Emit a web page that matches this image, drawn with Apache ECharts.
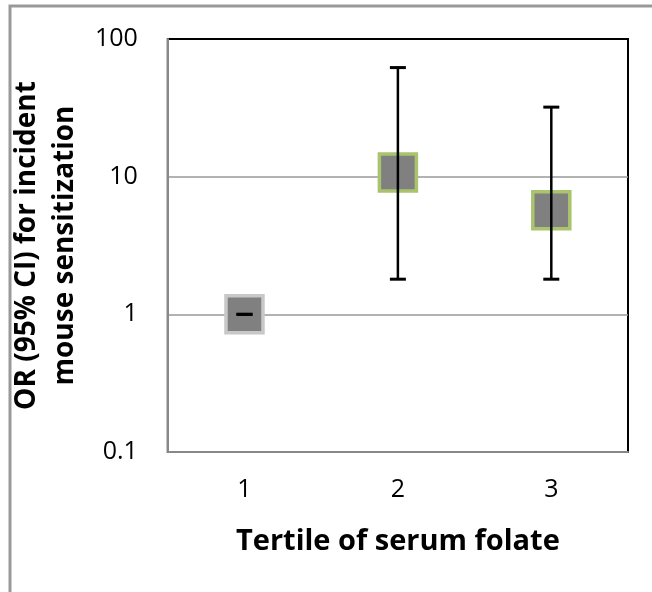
<!DOCTYPE html>
<html>
<head>
<meta charset="utf-8">
<script src="https://cdn.jsdelivr.net/npm/echarts@6/dist/echarts.min.js"></script>
<style>html,body{margin:0;padding:0;background:#fff}#c{width:652px;height:592px}</style>
</head>
<body>
<div id="c"></div>
<script>
var categories = ['1', '2', '3'];
var oddsRatio = [1, 10.7, 5.7];
var ciLower = [1, 1.8, 1.8];
var ciUpper = [1, 62, 32];
var yTicks = [0.1, 1, 10, 100];

var chart = echarts.init(document.getElementById('c'));
var font = '"Open Sans", "Noto Sans", sans-serif';

var pointData = oddsRatio.map(function (v, i) {
  return {
    value: [categories[i], v],
    itemStyle: { borderColor: i === 0 ? '#c8c8c8' : '#a9c46c' }
  };
});
var errData = categories.map(function (c, i) { return [c, ciLower[i], ciUpper[i]]; });

chart.setOption({
  animation: false,
  backgroundColor: '#fff',
  graphic: [{
    type: 'rect', silent: true, z: 100,
    shape: { x: 10, y: 6, width: 800, height: 800 },
    style: { fill: 'none', stroke: '#999', lineWidth: 3 }
  }],
  grid: {
    left: 167, top: 39, right: 24, bottom: 140,
    show: true, borderColor: '#000', borderWidth: 2, backgroundColor: 'transparent'
  },
  xAxis: {
    type: 'category',
    data: categories,
    name: 'Tertile of serum folate',
    nameLocation: 'middle',
    nameGap: 75,
    nameTextStyle: { fontFamily: font, fontWeight: 'bold', fontSize: 29, color: '#000' },
    axisLine: { lineStyle: { color: '#888', width: 2 } },
    axisTick: { show: false },
    axisLabel: { fontFamily: font, fontSize: 25, color: '#000', margin: 25 },
    splitLine: { show: false }
  },
  yAxis: {
    type: 'log',
    logBase: 10,
    min: yTicks[0],
    max: yTicks[yTicks.length - 1],
    name: 'OR (95% CI) for incident\nmouse sensitization',
    nameLocation: 'middle',
    nameRotate: 90,
    nameGap: 70,
    nameTextStyle: { fontFamily: font, fontWeight: 'bold', fontSize: 28, color: '#000', lineHeight: 38 },
    axisLine: { show: true, lineStyle: { color: '#888', width: 2 } },
    axisTick: { show: false },
    axisLabel: {
      fontFamily: font, fontSize: 25, color: '#000', margin: 30,
      formatter: function (v) { return String(+v.toPrecision(3)); }
    },
    splitLine: { show: true, showMinLine: false, showMaxLine: false, lineStyle: { color: '#999', width: 1.5 } }
  },
  series: [{
    type: 'scatter',
    data: pointData,
    symbol: 'rect',
    symbolSize: 37,
    z: 2,
    itemStyle: { color: '#808080', borderWidth: 3.5, opacity: 1 }
  }, {
    type: 'custom',
    z: 5,
    data: errData,
    renderItem: function (params, api) {
      var lo = api.coord([api.value(0), api.value(1)]);
      var hi = api.coord([api.value(0), api.value(2)]);
      var w = 8;
      var st = { stroke: '#000', lineWidth: 2.5, fill: 'none' };
      return {
        type: 'group',
        children: [
          { type: 'line', shape: { x1: lo[0], y1: lo[1], x2: hi[0], y2: hi[1] }, style: st },
          { type: 'line', shape: { x1: lo[0] - w, y1: lo[1], x2: lo[0] + w, y2: lo[1] }, style: { stroke: '#000', lineWidth: 3 } },
          { type: 'line', shape: { x1: hi[0] - w, y1: hi[1], x2: hi[0] + w, y2: hi[1] }, style: { stroke: '#000', lineWidth: 3 } }
        ]
      };
    }
  }]
});
</script>
</body>
</html>
